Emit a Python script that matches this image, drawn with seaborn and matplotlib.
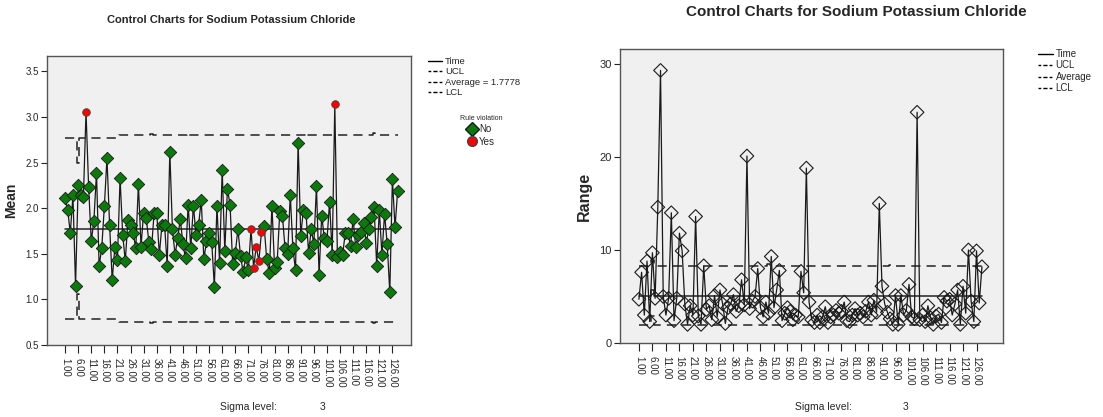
import matplotlib
matplotlib.use("Agg")
import matplotlib.pyplot as plt
import seaborn as sns
import pandas as pd
from matplotlib.lines import Line2D

# ---------------- data ----------------
subgroup = list(range(1, 129))

mean_values = [
    2.11, 1.98, 1.73, 2.14, 1.15, 2.25, 2.14, 2.12, 3.06, 2.23,
    1.64, 1.86, 2.39, 1.37, 1.56, 2.02, 2.55, 1.82, 1.21, 1.57,
    1.43, 2.33, 1.71, 1.42, 1.87, 1.82, 1.73, 1.56, 2.27, 1.58,
    1.95, 1.89, 1.63, 1.55, 1.95, 1.95, 1.49, 1.82, 1.82, 1.37,
    2.62, 1.77, 1.49, 1.67, 1.88, 1.61, 1.45, 2.04, 1.56, 2.03,
    1.71, 1.82, 2.09, 1.44, 1.64, 1.73, 1.63, 1.14, 2.02, 1.40,
    2.42, 1.53, 2.21, 2.04, 1.39, 1.51, 1.77, 1.48, 1.30, 1.46,
    1.32, 1.77, 1.35, 1.58, 1.42, 1.74, 1.81, 1.44, 1.29, 2.03,
    1.35, 1.41, 1.97, 1.92, 1.56, 1.50, 2.15, 1.56, 1.32, 2.72,
    1.70, 1.98, 1.95, 1.51, 1.77, 1.61, 2.24, 1.27, 1.92, 1.67,
    1.64, 2.07, 1.49, 3.14, 1.47, 1.52, 1.49, 1.73, 1.73, 1.59,
    1.88, 1.57, 1.71, 1.74, 1.84, 1.62, 1.77, 1.90, 2.01, 1.37,
    1.98, 1.49, 1.94, 1.61, 1.08, 2.32, 1.79, 2.19,
]

range_values = [
    4.7, 7.6, 3.0, 8.8, 2.3, 9.7, 4.8, 14.6, 29.3, 5.0,
    3.0, 4.8, 14.0, 2.4, 4.8, 11.8, 9.9, 4.2, 2.0, 4.0,
    3.0, 13.6, 2.9, 2.0, 8.3, 3.6, 4.0, 2.5, 5.1, 2.8,
    5.7, 4.2, 2.1, 3.8, 4.2, 5.2, 3.4, 4.0, 6.8, 4.1,
    20.1, 3.7, 4.5, 5.0, 8.0, 3.8, 2.8, 4.4, 3.2, 9.3,
    3.8, 5.7, 7.8, 2.4, 3.2, 3.8, 3.4, 2.5, 3.0, 2.8,
    7.7, 5.4, 18.8, 4.4, 2.5, 2.2, 3.0, 2.2, 2.8, 3.9,
    2.2, 2.8, 3.0, 3.5, 3.2, 3.4, 4.4, 2.4, 2.3, 3.0,
    3.7, 3.0, 3.2, 2.8, 3.4, 4.4, 3.0, 4.6, 3.3, 15.0,
    6.1, 4.2, 3.3, 2.6, 2.0, 5.1, 2.0, 5.1, 3.0, 3.5,
    6.3, 2.8, 2.6, 24.8, 2.5, 3.0, 2.3, 4.0, 2.7, 2.0,
    2.9, 3.1, 2.2, 4.9, 4.5, 4.7, 3.0, 4.2, 5.7, 2.0,
    6.1, 3.2, 10.0, 4.5, 2.3, 9.9, 4.3, 8.2,
]

violation_subgroups = [9, 72, 73, 74, 75, 76, 104]

mean_average = 1.7778
mean_center = [mean_average] * 128
mean_ucl = ([2.77] * 5 + [2.50] + [2.77] * 15 + [2.80] * 12 + [2.81] + [2.80] * 13
            + [2.83] + [2.80] * 44 + [2.82] + [2.80] * 25 + [2.82] + [2.80] * 9)
mean_lcl = ([0.786] * 5 + [1.056] + [0.786] * 15 + [0.756] * 12 + [0.746] + [0.756] * 13
            + [0.726] + [0.756] * 44 + [0.736] + [0.756] * 25 + [0.736] + [0.756] * 9)

range_ucl = [8.25] * 5 + [8.9] + [8.25] * 42 + [8.45] + [8.25] * 44 + [8.4] + [8.25] * 34
range_center = [5.1] * 5 + [5.7] + [5.1] * 122
range_lcl = [1.95] * 5 + [2.9] + [1.95] * 42 + [1.85] + [1.95] * 44 + [1.9] + [1.95] * 34

tick_values = subgroup[::5]
tick_labels = [f"{v:.2f}" for v in tick_values]

# ---------------- style ----------------
sns.set_style("white", {"axes.facecolor": "#f0f0f0", "axes.edgecolor": "#555555"})
plt.rcParams["font.family"] = ["Liberation Sans", "DejaVu Sans"]

df_mean = pd.DataFrame({"Subgroup": subgroup, "Mean": mean_values,
                        "UCL": mean_ucl, "LCL": mean_lcl, "Avg": mean_center})
df_mean["Rule"] = ["Yes" if s in violation_subgroups else "No" for s in subgroup]
df_range = pd.DataFrame({"Subgroup": subgroup, "Range": range_values,
                         "UCL": range_ucl, "LCL": range_lcl, "Avg": range_center})

W, H = 1103, 417
fig = plt.figure(figsize=(W / 100, H / 100), dpi=100)
fig.patch.set_facecolor("white")


def px_axes(l, t, r, b):
    return fig.add_axes([l / W, 1 - b / H, (r - l) / W, (b - t) / H])


axL = px_axes(47, 56, 411, 345)
axR = px_axes(620, 49, 1003, 343)

dash = (6, 4)
# --- mean chart ---
sns.lineplot(data=df_mean, x="Subgroup", y="UCL", ax=axL, color="#222222", lw=1.1,
             drawstyle="steps-mid", estimator=None).lines[-1].set_dashes(dash)
sns.lineplot(data=df_mean, x="Subgroup", y="LCL", ax=axL, color="#222222", lw=1.1,
             drawstyle="steps-mid", estimator=None).lines[-1].set_dashes(dash)
sns.lineplot(data=df_mean, x="Subgroup", y="Avg", ax=axL, color="#222222", lw=1.1, estimator=None)
sns.lineplot(data=df_mean, x="Subgroup", y="Mean", ax=axL, color="#1a1a1a", lw=0.9,
             estimator=None, zorder=3)
sns.scatterplot(data=df_mean[df_mean["Rule"] == "No"], x="Subgroup", y="Mean", ax=axL,
                marker="D", s=40, color="#0a7a0a", edgecolor="#1a1a1a", linewidth=0.6,
                zorder=4, legend=False)
sns.scatterplot(data=df_mean[df_mean["Rule"] == "Yes"], x="Subgroup", y="Mean", ax=axL,
                marker="o", s=30, color="#ff0000", edgecolor="#444444", linewidth=0.6,
                zorder=5, legend=False)

axL.set_xlim(-5.9, 133.1)
axL.set_ylim(0.5, 3.67)
axL.set_yticks([0.5, 1.0, 1.5, 2.0, 2.5, 3.0, 3.5])
axL.set_yticklabels(["0.5", "1.0", "1.5", "2.0", "2.5", "3.0", "3.5"])
axL.set_ylabel("Mean", fontsize=10, fontweight="bold")
axL.yaxis.set_label_coords((18 - 47) / 364, 0.5)
axL.set_xlabel("")

# --- range chart ---
sns.lineplot(data=df_range, x="Subgroup", y="UCL", ax=axR, color="#222222", lw=1.1,
             drawstyle="steps-mid", estimator=None).lines[-1].set_dashes(dash)
sns.lineplot(data=df_range, x="Subgroup", y="LCL", ax=axR, color="#222222", lw=1.1,
             drawstyle="steps-mid", estimator=None).lines[-1].set_dashes(dash)
sns.lineplot(data=df_range, x="Subgroup", y="Avg", ax=axR, color="#222222", lw=1.1,
             drawstyle="steps-mid", estimator=None)
sns.lineplot(data=df_range, x="Subgroup", y="Range", ax=axR, color="#1a1a1a", lw=0.9,
             estimator=None, zorder=3)
sns.scatterplot(data=df_range, x="Subgroup", y="Range", ax=axR, marker="D", s=48,
                facecolor="none", edgecolor="#1a1a1a", linewidth=0.8, zorder=4, legend=False)

axR.set_xlim(-6.0, 135.8)
axR.set_ylim(0, 31.6)
axR.set_yticks([0, 10, 20, 30])
axR.set_ylabel("Range", fontsize=11.5, fontweight="bold")
axR.yaxis.set_label_coords((592 - 620) / 383, 0.5)
axR.set_xlabel("")

for ax, ysz in ((axL, 7), (axR, 8)):
    ax.set_xticks(tick_values)
    ax.set_xticklabels(tick_labels, rotation=270, fontsize=7)
    ax.tick_params(axis="x", direction="out", length=6, width=0.8, color="#222222",
                   bottom=True, pad=3)
    ax.tick_params(axis="y", direction="out", length=4, width=0.8, color="#222222",
                   left=True, labelsize=ysz, pad=2)
    for sp in ax.spines.values():
        sp.set_color("#555555")
        sp.set_linewidth(1.0)
        sp.set_visible(True)

# titles
fig.text(231 / W, 1 - 20 / H, "Control Charts for Sodium Potassium Chloride",
         ha="center", va="center", fontsize=8, fontweight="bold")
fig.text(856 / W, 1 - 12 / H, "Control Charts for Sodium Potassium Chloride",
         ha="center", va="center", fontsize=11, fontweight="bold")

# sigma level
for xl, x3 in ((220, 320), (795, 903)):
    fig.text(xl / W, 1 - 407 / H, "Sigma level:", ha="left", va="center", fontsize=7.5)
    fig.text(x3 / W, 1 - 407 / H, "3", ha="left", va="center", fontsize=7.5)


# legends
def limit_handles(avg_label):
    return [
        Line2D([], [], color="black", lw=1.0, label="Time"),
        Line2D([], [], color="black", lw=1.0, dashes=(2, 1.5, 3, 1.5), label="UCL"),
        Line2D([], [], color="black", lw=1.0, dashes=(2, 1.5, 3, 1.5), label=avg_label),
        Line2D([], [], color="black", lw=1.0, dashes=(2, 1.5, 3, 1.5), label="LCL"),
    ]


fig.legend(handles=limit_handles("Average = 1.7778"), loc="upper left",
           bbox_to_anchor=(428 / W, 1 - 57 / H), frameon=False, fontsize=6.8,
           handlelength=1.5, handletextpad=0.3, labelspacing=0.15,
           borderpad=0, borderaxespad=0)
rule_handles = [
    Line2D([], [], marker="D", ls="", markersize=7, markerfacecolor="#0a7a0a",
           markeredgecolor="#1a1a1a", label="No"),
    Line2D([], [], marker="o", ls="", markersize=7, markerfacecolor="#ff0000",
           markeredgecolor="#444444", label="Yes"),
]
fig.legend(handles=rule_handles, loc="upper left", bbox_to_anchor=(460 / W, 1 - 115 / H),
           frameon=False, fontsize=7, title="Rule violation", title_fontsize=5,
           handlelength=1.0, handletextpad=0.2, labelspacing=0.25,
           borderpad=0, borderaxespad=0)
fig.legend(handles=limit_handles("Average"), loc="upper left",
           bbox_to_anchor=(1038 / W, 1 - 49 / H), frameon=False, fontsize=7,
           handlelength=1.5, handletextpad=0.3, labelspacing=0.15,
           borderpad=0, borderaxespad=0)

fig.savefig("out.png", dpi=100, facecolor="white")
